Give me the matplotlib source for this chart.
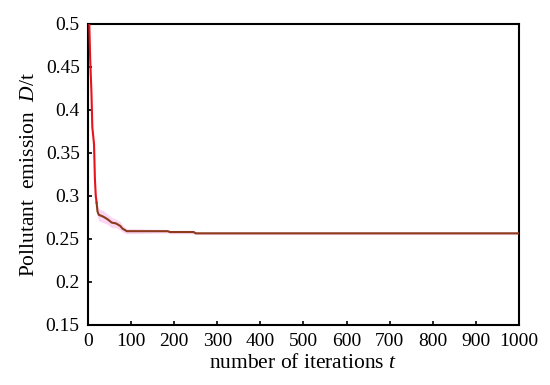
import numpy as np
import matplotlib
matplotlib.use("Agg")
import matplotlib.pyplot as plt

# convergence data
iters = [0, 3, 5, 8, 10, 12, 14, 16, 18, 20, 22, 25, 35, 45, 55, 65, 75, 80, 90, 185, 190, 245, 250, 1000]
emission = [0.56, 0.50, 0.46, 0.42, 0.38, 0.37, 0.36, 0.32, 0.30, 0.292, 0.282, 0.278, 0.276, 0.273, 0.269, 0.268, 0.265, 0.262, 0.259, 0.259, 0.258, 0.258, 0.2565, 0.2565]
spread = [0.002, 0.002, 0.002, 0.002, 0.002, 0.002, 0.002, 0.003, 0.004, 0.006, 0.007, 0.007, 0.007, 0.006, 0.006, 0.005, 0.005, 0.004, 0.003, 0.002, 0.002, 0.002, 0.0015, 0.0015]
split_at = 9  # index where the red part hands over to the brown line

xticks = [0, 100, 200, 300, 400, 500, 600, 700, 800, 900, 1000]
yticks = [0.15, 0.2, 0.25, 0.3, 0.35, 0.4, 0.45, 0.5]
ylabels = ['0.15', '0.2', '0.25', '0.3', '0.35', '0.4', '0.45', '0.5']

plt.rcParams['font.family'] = ['Liberation Serif', 'DejaVu Serif']
plt.rcParams['mathtext.fontset'] = 'custom'
plt.rcParams['mathtext.rm'] = 'Liberation Serif'
plt.rcParams['mathtext.it'] = 'Liberation Serif:italic'

fig = plt.figure(figsize=(5.5, 3.85), dpi=100)
ax = fig.add_axes([0.16, 0.156, 0.7836, 0.782])

x = np.array(iters)
y = np.array(emission)
s = np.array(spread)
ax.fill_between(x, y - s, y + s, color='#fbd6f2', lw=0, zorder=1)
ax.plot(x[:split_at + 1], y[:split_at + 1], color='#e8141c', lw=1.5, zorder=3)
ax.plot(x[split_at:], y[split_at:], color='#8b3a1a', lw=1.5, zorder=3)

ax.set_xlim(0, 1000)
ax.set_ylim(0.15, 0.5)
ax.set_xticks(xticks)
ax.set_xticklabels([str(v) for v in xticks])
ax.set_yticks(yticks)
ax.set_yticklabels(ylabels)
ax.tick_params(direction='in', length=3, width=1.2, labelsize=14, pad=6)
for sp in ax.spines.values():
    sp.set_linewidth(1.5)

ax.set_xlabel('number of iterations $t$', fontsize=15.5, labelpad=3)
ax.set_ylabel('Pollutant  emission  $D$/t', fontsize=15.5, labelpad=5)

fig.savefig('out.png', dpi=100)
